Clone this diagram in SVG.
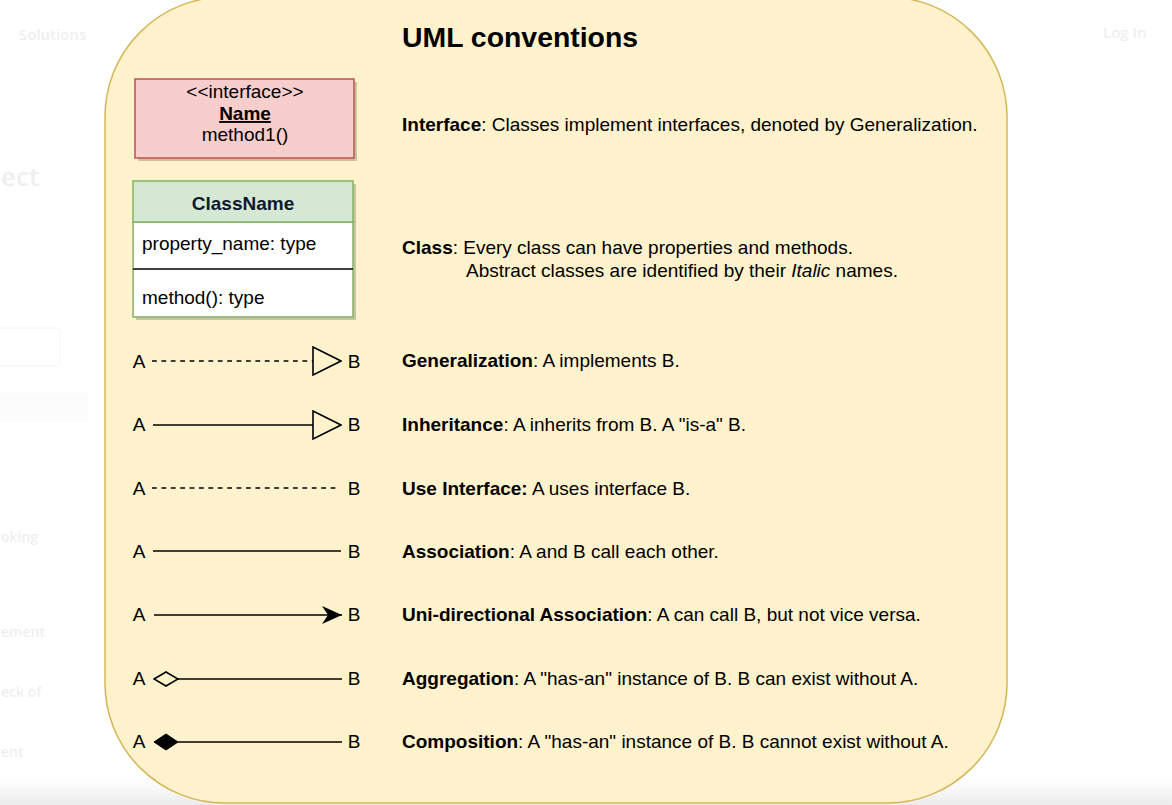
<svg xmlns="http://www.w3.org/2000/svg" width="1172" height="805" viewBox="0 0 1172 805">
<defs>
<linearGradient id="bottomShade" x1="0" y1="0" x2="0" y2="1">
<stop offset="0" stop-color="#ffffff"/>
<stop offset="1" stop-color="#ececec"/>
</linearGradient>
<marker id="triOpen" markerUnits="userSpaceOnUse" viewBox="-1 -1 30 30" refX="0" refY="14" markerWidth="30" markerHeight="30" orient="auto">
<path d="M0,0 L28,14 L0,28 Z" fill="none" stroke="#000" stroke-width="1.6"/>
</marker>
<marker id="arrowFill" markerUnits="userSpaceOnUse" viewBox="0 0 21 19" refX="20" refY="9" markerWidth="21" markerHeight="19" orient="auto">
<path d="M0,0 L20,9 L0,18 L6,9 Z" fill="#000"/>
</marker>
<marker id="diamondOpen" markerUnits="userSpaceOnUse" viewBox="-1 -1 26 16" refX="24" refY="7" markerWidth="26" markerHeight="16" orient="auto">
<path d="M0,7 L12,0 L24,7 L12,14 Z" fill="none" stroke="#000" stroke-width="1.6"/>
</marker>
<marker id="diamondFill" markerUnits="userSpaceOnUse" viewBox="-1 -1 26 18" refX="24" refY="8" markerWidth="26" markerHeight="18" orient="auto">
<path d="M0,8 L12,0 L24,8 L12,16 Z" fill="#000" stroke="#000" stroke-width="1"/>
</marker>
</defs>
<style>
.t{font-family:"Liberation Sans",Arial,Helvetica,sans-serif;font-size:19px;fill:#000}
.b{font-weight:bold}
.ttl{font-family:"Liberation Sans",Arial,Helvetica,sans-serif;font-size:28.4px;font-weight:bold;fill:#000}
.bg{font-family:"Open Sans","Noto Sans",sans-serif;fill:#efefef;font-weight:600}
.ln{fill:none;stroke:#000;stroke-width:1.6}
.dash{stroke-dasharray:4.8 4.6}
.shadow{fill:#000;opacity:0.2}
</style>
<rect x="0" y="0" width="1172" height="805" fill="#ffffff"/>
<rect x="0" y="778" width="1172" height="27" fill="url(#bottomShade)"/>
<g id="background-page">
<text class="bg" x="19" y="40" font-size="15">Solutions</text>
<text class="bg" x="1103" y="38" font-size="15">Log In</text>
<text class="bg" x="1" y="186" font-size="26">ect</text>
<text class="bg" x="1" y="542" font-size="14" font-weight="normal">oking</text>
<text class="bg" x="1" y="637" font-size="14" font-weight="normal">ement</text>
<text class="bg" x="1" y="697" font-size="14" font-weight="normal">eck of</text>
<text class="bg" x="1" y="757" font-size="14" font-weight="normal">ent</text>
<rect x="-6" y="328" width="66" height="38" rx="4" fill="none" stroke="#f4f4f4"/>
<rect x="0" y="393" width="88" height="29" fill="#fcfcfc"/>
<line x1="1000" y1="69" x2="1172" y2="69" stroke="#fbfbfb"/>
</g>
<g id="container">
<rect x="105" y="-3" width="902" height="806" rx="120" ry="120" fill="#fff2cc" stroke="#d6b656" stroke-width="1.5"/>
<text class="ttl" x="402" y="47">UML conventions</text>
</g>
<g id="interface-node">
<rect class="shadow" x="138" y="82" width="219" height="79"/>
<rect x="135" y="79" width="219" height="79" fill="#f8cecc" stroke="#b85450" stroke-width="1.5"/>
<text class="t" x="245" y="98" text-anchor="middle">&lt;&lt;interface&gt;&gt;</text>
<text class="t b" x="245" y="120" text-anchor="middle" text-decoration="underline">Name</text>
<text class="t" x="245" y="141" text-anchor="middle">method1()</text>
</g>
<g id="class-node">
<rect class="shadow" x="136" y="184" width="220" height="136"/>
<rect x="133" y="222" width="220" height="95" fill="#ffffff" stroke="#82b366" stroke-width="1.5"/>
<rect x="133" y="181" width="220" height="41" fill="#d5e8d4" stroke="#82b366" stroke-width="1.5"/>
<line x1="133" y1="269" x2="353" y2="269" stroke="#000" stroke-width="1.5"/>
<text class="t b" x="243" y="210" text-anchor="middle" style="fill:#0b1a2e">ClassName</text>
<text class="t" x="142" y="250">property_name: type</text>
<text class="t" x="142" y="304">method(): type</text>
</g>
<g id="connectors">
<path class="ln dash" d="M152,361 L313,361" marker-end="url(#triOpen)"/>
<path class="ln" d="M153,425 L313,425" marker-end="url(#triOpen)"/>
<path class="ln dash" d="M152,488 L340,488"/>
<path class="ln" d="M153,551 L341,551"/>
<path class="ln" d="M154,615 L342,615" marker-end="url(#arrowFill)"/>
<path class="ln" d="M178,679 L342,679" marker-start="url(#diamondOpen)"/>
<path class="ln" d="M178,742 L342,742" marker-start="url(#diamondFill)"/>
</g>
<g id="endpoint-labels">
<text class="t" x="139" y="368" text-anchor="middle">A</text>
<text class="t" x="354" y="368" text-anchor="middle">B</text>
<text class="t" x="139" y="431" text-anchor="middle">A</text>
<text class="t" x="354" y="431" text-anchor="middle">B</text>
<text class="t" x="139" y="495" text-anchor="middle">A</text>
<text class="t" x="354" y="495" text-anchor="middle">B</text>
<text class="t" x="139" y="558" text-anchor="middle">A</text>
<text class="t" x="354" y="558" text-anchor="middle">B</text>
<text class="t" x="139" y="621" text-anchor="middle">A</text>
<text class="t" x="354" y="621" text-anchor="middle">B</text>
<text class="t" x="139" y="685" text-anchor="middle">A</text>
<text class="t" x="354" y="685" text-anchor="middle">B</text>
<text class="t" x="139" y="748" text-anchor="middle">A</text>
<text class="t" x="354" y="748" text-anchor="middle">B</text>
</g>
<g id="descriptions">
<text class="t" x="402" y="131"><tspan class="b">Interface</tspan>: Classes implement interfaces, denoted by Generalization.</text>
<text class="t" x="402" y="254"><tspan class="b">Class</tspan>: Every class can have properties and methods.</text>
<text class="t" x="466" y="277">Abstract classes are identified by their <tspan font-style="italic">Italic</tspan> names.</text>
<text class="t" x="402" y="367"><tspan class="b">Generalization</tspan>: A implements B.</text>
<text class="t" x="402" y="431"><tspan class="b">Inheritance</tspan>: A inherits from B. A "is-a" B.</text>
<text class="t" x="402" y="495"><tspan class="b">Use Interface:</tspan> A uses interface B.</text>
<text class="t" x="402" y="558"><tspan class="b">Association</tspan>: A and B call each other.</text>
<text class="t" x="402" y="621"><tspan class="b">Uni-directional Association</tspan>: A can call B, but not vice versa.</text>
<text class="t" x="402" y="685"><tspan class="b">Aggregation</tspan>: A "has-an" instance of B. B can exist without A.</text>
<text class="t" x="402" y="748"><tspan class="b">Composition</tspan>: A "has-an" instance of B. B cannot exist without A.</text>
</g>
</svg>
